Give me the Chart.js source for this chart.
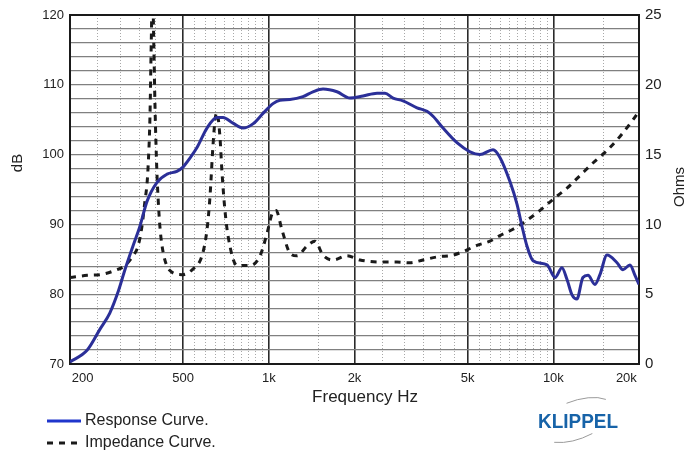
<!DOCTYPE html>
<html>
<head>
<meta charset="utf-8">
<script src="https://cdn.jsdelivr.net/npm/chart.js@4.4.0/dist/chart.umd.min.js"></script>
<style>
  html, body { margin: 0; padding: 0; background: #fff; }
</style>
</head>
<body>
<canvas id="chart" width="689" height="457"></canvas>
<script>
// response curve (dB, left axis)
const respFreq = [200, 230, 255, 276, 295, 312, 333, 352, 373, 404, 439, 475, 499, 528, 559, 606, 657, 690, 748, 811, 879, 954, 1034, 1094, 1186, 1318, 1429, 1550, 1736, 1928, 2142, 2400, 2560, 2733, 2962, 3318, 3596, 3776, 4094, 4583, 5094, 5520, 6136, 6490, 7043, 7450, 7762, 8075, 8480, 9500, 10140, 10720, 11170, 11630, 12100, 12700, 13240, 14000, 14580, 15440, 16740, 17570, 18590, 19360, 20000];
const respDb = [70.3, 72.0, 75.0, 77.3, 80.3, 83.5, 86.9, 89.7, 93.3, 96.0, 97.2, 97.6, 98.2, 99.5, 101.0, 103.8, 105.3, 105.3, 104.5, 103.8, 104.4, 105.9, 107.3, 107.8, 107.9, 108.3, 109.0, 109.4, 109.0, 108.1, 108.4, 108.8, 108.8, 108.1, 107.7, 106.7, 106.2, 105.5, 103.8, 101.7, 100.4, 100.0, 100.7, 99.6, 96.1, 92.9, 89.7, 86.9, 84.8, 84.2, 82.4, 83.8, 82.1, 79.9, 79.3, 82.4, 82.7, 81.4, 82.8, 85.6, 84.5, 83.5, 84.2, 82.7, 81.4];

// impedance curve (Ohms, right axis)
const impFreq = [200, 230, 255, 288, 312, 333, 347, 358, 367, 373, 376, 382, 386, 390, 394, 398, 404, 408, 414, 425, 449, 495, 541, 582, 606, 621, 636, 647, 657, 673, 684, 701, 719, 773, 859, 931, 985, 1026, 1060, 1112, 1186, 1256, 1362, 1452, 1550, 1681, 1882, 2090, 2519, 2821, 3134, 3481, 3996, 4332, 4812, 5390, 5988, 6490, 7212, 8075, 8975, 9974, 11170, 12410, 13780, 15440, 17150, 19060, 20000];
const impOhm = [6.2, 6.35, 6.4, 6.7, 7.05, 7.75, 8.45, 9.85, 11.7, 12.9, 14.0, 17.7, 23.0, 27.0, 23.0, 18.4, 13.8, 11.9, 9.85, 8.0, 6.7, 6.4, 6.8, 7.75, 9.6, 12.0, 15.6, 17.5, 18.0, 16.3, 13.8, 11.0, 9.15, 7.05, 7.05, 7.75, 9.35, 10.75, 11.0, 9.6, 7.95, 7.75, 8.45, 8.8, 7.8, 7.45, 7.75, 7.45, 7.3, 7.3, 7.25, 7.45, 7.7, 7.75, 8.05, 8.5, 8.8, 9.2, 9.65, 10.3, 11.0, 11.8, 12.6, 13.5, 14.4, 15.3, 16.3, 17.5, 18.1];

// frequency grid lines and labels
const gridFreqs = [200, 250, 300, 350, 400, 450, 500, 550, 600, 650, 700, 750, 800, 850, 900, 950, 1000, 1500, 2000, 2500, 3000, 3500, 4000, 4500, 5000, 5500, 6000, 6500, 7000, 7500, 8000, 8500, 9000, 9500, 10000, 15000, 20000];
const majorFreqs = [500, 1000, 2000, 5000, 10000];
const freqLabels = {200: '       200', 500: '500', 1000: '1k', 2000: '2k', 5000: '5k', 10000: '10k', 20000: '20k       '};

const font = '"Liberation Sans", Arial, sans-serif';

const decor = {
  id: 'decor',
  beforeDatasetsDraw(chart) {
    const {ctx, chartArea: a} = chart;
    ctx.save();
    ctx.strokeStyle = '#1a1a1a';
    ctx.lineWidth = 2;
    ctx.strokeRect(a.left, a.top, a.right - a.left, a.bottom - a.top);
    ctx.restore();
  },
  afterDraw(chart) {
    const ctx = chart.ctx;
    const ds = chart.data.datasets;
    ctx.save();
    ctx.fillStyle = '#222';
    ctx.textBaseline = 'middle';

    // axis titles
    ctx.textAlign = 'center';
    ctx.font = '17px ' + font;
    ctx.fillText('Frequency Hz', 365, 397);
    ctx.font = '15px ' + font;
    ctx.save(); ctx.translate(18, 163); ctx.rotate(-Math.PI / 2); ctx.fillText('dB', 0, 0); ctx.restore();
    ctx.save(); ctx.translate(680, 187); ctx.rotate(-Math.PI / 2); ctx.fillText('Ohms', 0, 0); ctx.restore();

    // legend
    ctx.textAlign = 'left';
    ctx.font = '16px ' + font;
    const rows = [[ds[0], 421, '#1f35cc'], [ds[1], 443, ds[1].borderColor]];
    rows.forEach(([d, y, c]) => {
      ctx.save();
      ctx.strokeStyle = c;
      ctx.lineWidth = 3;
      ctx.setLineDash(d.borderDash || []);
      ctx.beginPath(); ctx.moveTo(47, y); ctx.lineTo(d.borderDash ? 77 : 81, y); ctx.stroke();
      ctx.restore();
      ctx.fillText(d.label, 85, y);
    });

    // logo
    ctx.font = 'bold 21px ' + font;
    ctx.fillStyle = '#1763a8';
    ctx.textBaseline = 'alphabetic';
    ctx.fillText('KLIPPEL', 538, 428, 80);
    ctx.strokeStyle = '#9a9a9a';
    ctx.lineWidth = 1;
    ctx.beginPath(); ctx.ellipse(576, 420, 40, 19, -0.35, -1.65, -0.5); ctx.stroke();
    ctx.beginPath(); ctx.ellipse(576, 420, 40, 19, -0.35, 1.3, 2.35); ctx.stroke();
    ctx.restore();
  }
};

new Chart(document.getElementById('chart'), {
  type: 'line',
  data: {
    datasets: [
      {
        label: 'Response Curve.',
        data: respFreq.map((f, i) => ({x: f, y: respDb[i]})),
        yAxisID: 'y',
        borderColor: '#2b2f98',
        borderWidth: 3,
        pointRadius: 0,
        cubicInterpolationMode: 'monotone'
      },
      {
        label: 'Impedance Curve.',
        data: impFreq.map((f, i) => ({x: f, y: impOhm[i]})),
        yAxisID: 'y2',
        borderColor: '#1a1a1a',
        borderWidth: 3,
        borderDash: [6, 6],
        pointRadius: 0,
        cubicInterpolationMode: 'monotone'
      }
    ]
  },
  options: {
    responsive: false,
    animation: false,
    layout: {padding: {top: 6, bottom: 63, left: 0, right: 0}},
    plugins: {legend: {display: false}, tooltip: {enabled: false}},
    scales: {
      x: {
        type: 'logarithmic',
        min: 200,
        max: 20000,
        afterBuildTicks: s => { s.ticks = gridFreqs.map(v => ({value: v})); },
        afterFit: s => { s.height = 30; },
        ticks: {
          autoSkip: false, maxRotation: 0, minRotation: 0, padding: 7,
          color: '#222', font: {family: font, size: 13},
          callback: v => freqLabels[v] || ''
        },
        border: {display: false, dash: c => (c.tick && majorFreqs.includes(c.tick.value)) ? [] : [1, 2]},
        grid: {
          drawTicks: false,
          color: c => {
            const v = c.tick && c.tick.value;
            if (v === 200 || v === 20000) return 'rgba(0,0,0,0)';
            return majorFreqs.includes(v) ? '#2a2a2a' : '#a8a8a8';
          },
          lineWidth: c => (c.tick && majorFreqs.includes(c.tick.value)) ? 1.6 : 1
        }
      },
      y: {
        position: 'left',
        min: 70,
        max: 120,
        afterFit: s => { s.width = 70; },
        ticks: {
          stepSize: 2, autoSkip: false, padding: 6, color: '#222', font: {family: font, size: 13},
          callback: v => v % 10 === 0 ? v : ''
        },
        border: {display: false},
        grid: {drawTicks: false, color: '#808080', lineWidth: 1.3}
      },
      y2: {
        position: 'right',
        min: 0,
        max: 25,
        afterFit: s => { s.width = 50; },
        ticks: {stepSize: 5, autoSkip: false, padding: 6, color: '#222', font: {family: font, size: 15}},
        border: {display: false},
        grid: {drawOnChartArea: false, drawTicks: false}
      }
    }
  },
  plugins: [decor]
});
</script>
</body>
</html>
